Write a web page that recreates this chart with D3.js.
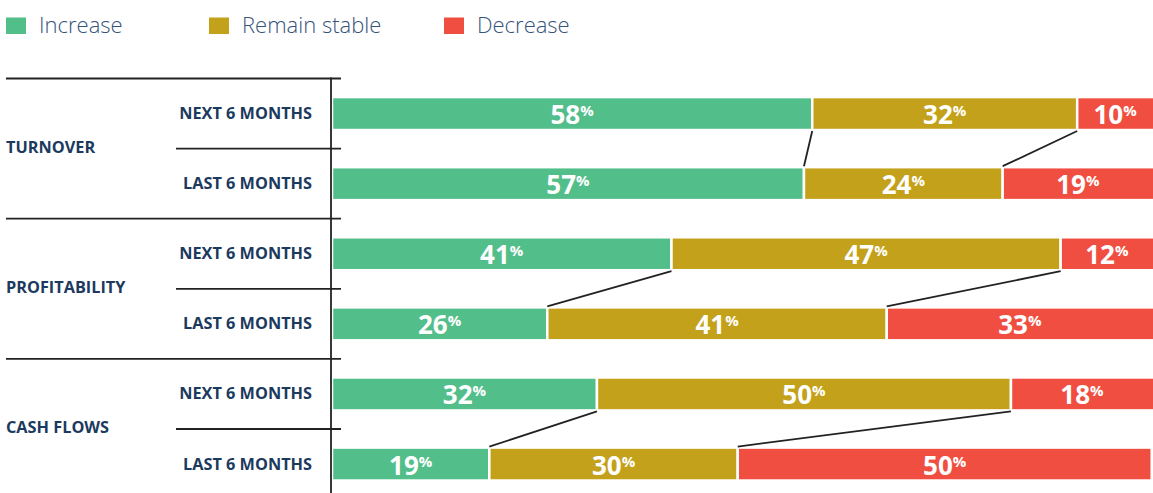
<!DOCTYPE html>
<html><head><meta charset="utf-8">
<script src="https://cdn.jsdelivr.net/npm/d3@7"></script>
<style>
html,body{margin:0;padding:0;background:#fff;}
svg{display:block;}
</style></head>
<body>
<svg id="chart" width="1153" height="493"></svg>
<script>
const groups = ["TURNOVER", "PROFITABILITY", "CASH FLOWS"];
const periods = ["NEXT 6 MONTHS", "LAST 6 MONTHS"];
const seriesNames = ["Increase", "Remain stable", "Decrease"];
const colors = ["#52BE8A", "#C4A11A", "#F04E41"];
const increase = [58, 57, 41, 26, 32, 19];
const stable   = [32, 24, 47, 41, 50, 30];
const decrease = [10, 19, 12, 33, 18, 50];

const rows = [];
groups.forEach((g, gi) => periods.forEach((p, pi) => rows.push({group: g, period: p, key: g + "|" + p, gi, pi})));
rows.forEach((r, i) => { r.values = [increase[i], stable[i], decrease[i]]; });

const svg = d3.select("#chart");
const navy = "#1C3A5E";
const font = "'Open Sans', 'Liberation Sans', sans-serif";

const x = d3.scaleLinear().domain([0, 100]).range([332, 1160]);
const y = d3.scaleBand().domain(rows.map(r => r.key)).range([78.5, 499.1]).paddingInner(0.53).paddingOuter(0.265);
const step = y.step();
const bandTop = k => y(k) - y.paddingInner() * step / 2;

// legend
const leg = svg.append("g");
const legX = [6, 209, 444];
seriesNames.forEach((s, i) => {
  leg.append("rect").attr("x", legX[i]).attr("y", 17.5).attr("width", 20).attr("height", 16.5).attr("fill", colors[i]);
  leg.append("text").attr("x", legX[i] + 33).attr("y", 33.3).text(s)
    .attr("font-family", font).attr("font-weight", 300).attr("font-size", 22).attr("fill", "#34527A");
});

// stacked segments
const stacks = rows.map(r => {
  let c = 0;
  return r.values.map((v, i) => { const s = {x0: c, x1: c + v, v, i, row: r}; c += v; return s; });
});

const bars = svg.append("g");
stacks.forEach(st => st.forEach(s => {
  bars.append("rect")
    .attr("x", x(s.x0)).attr("y", y(s.row.key))
    .attr("width", x(s.x1) - x(s.x0)).attr("height", y.bandwidth())
    .attr("fill", colors[s.i]).attr("stroke", "#fff").attr("stroke-width", 2.5);
}));

// labels
stacks.forEach(st => st.forEach(s => {
  const cx = (x(s.x0) + Math.min(x(s.x1), 1153)) / 2;
  const t = bars.append("text")
    .attr("x", cx).attr("y", y(s.row.key) + y.bandwidth() / 2 + 10.5)
    .attr("text-anchor", "middle").attr("font-family", font).attr("font-weight", 700)
    .attr("fill", "#fff");
  t.append("tspan").attr("font-size", 26).text(s.v);
  t.append("tspan").attr("font-size", 15).attr("dy", -8).text("%");
}));

// connectors
const conn = svg.append("g");
groups.forEach((g, gi) => {
  const a = stacks[gi * 2], b = stacks[gi * 2 + 1];
  [0, 1].forEach(k => {
    conn.append("line")
      .attr("x1", x(a[k].x1)).attr("y1", y(a[k].row.key) + y.bandwidth() + 1)
      .attr("x2", x(b[k].x1)).attr("y2", y(b[k].row.key) - 1)
      .attr("stroke", "#222").attr("stroke-width", 1.8);
  });
});

// structure lines
const lines = svg.append("g").attr("stroke", "#222").attr("stroke-width", 1.8);
groups.forEach((g, gi) => {
  const top = bandTop(rows[gi * 2].key);
  const mid = bandTop(rows[gi * 2 + 1].key);
  lines.append("line").attr("x1", 6).attr("x2", 341).attr("y1", top).attr("y2", top);
  lines.append("line").attr("x1", 176).attr("x2", 341).attr("y1", mid).attr("y2", mid);
});
lines.append("line").attr("x1", 331).attr("x2", 331).attr("y1", bandTop(rows[0].key) - 1).attr("y2", 493);

// row labels
const lab = svg.append("g").attr("font-family", font).attr("font-weight", 700).attr("fill", navy).attr("font-size", 16.3);
rows.forEach(r => {
  lab.append("text").attr("x", 312).attr("y", y(r.key) + y.bandwidth() / 2 + 5.5)
    .attr("text-anchor", "end").text(r.period);
});
groups.forEach((g, gi) => {
  const mid = bandTop(rows[gi * 2 + 1].key);
  lab.append("text").attr("x", 6).attr("y", mid + 4).text(g);
});
</script>
</body></html>
